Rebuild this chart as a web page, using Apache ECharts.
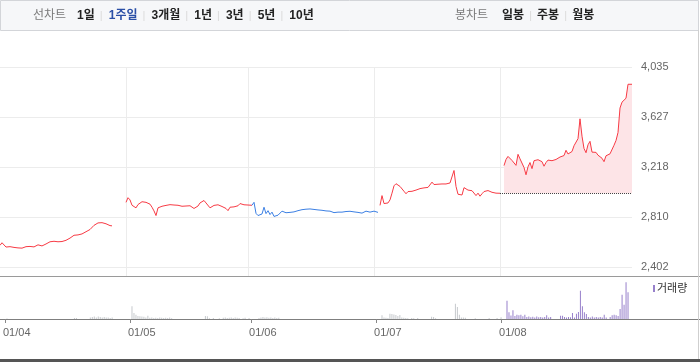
<!DOCTYPE html>
<html>
<head>
<meta charset="utf-8">
<script src="https://cdn.jsdelivr.net/npm/echarts@6/dist/echarts.min.js"></script>
<style>
html,body{margin:0;padding:0;background:#fff;}
#c{width:700px;height:362px;}
</style>
</head>
<body>
<div id="c"></div>
<script>
// ---------------- data ----------------
const pointCount = 317;                       // intraday slots on the x axis
const monthStarts = [0, 63, 124, 187, 250];    // slot index of each month tick
const monthLabels = ['01/04', '01/05', '01/06', '01/07', '01/08'];
const yTickValues = [2402, 2810, 3218, 3627, 4035];
const baseline = 3004;                         // reference (dotted) price

const seg1Start = 0;
const seg1 = [2579,2600,2590,2565,2560,2568,2558,2562,2555,2558,
  2552,2556,2563,2568,2566,2570,2568,2566,2575,2583,
  2578,2574,2580,2590,2600,2608,2606,2612,2614,2608,
  2612,2610,2614,2620,2628,2638,2652,2661,2660,2664,
  2668,2672,2678,2690,2700,2708,2720,2742,2758,2762,
  2766,2764,2768,2755,2748,2740,2738];
const seg2Start = 63;
const seg2 = [2930,2968,2950,2906,2915,2885,2912,2920,2935,2947,
  2930,2925,2915,2890,2860,2822,2885,2892,2898,2895,
  2905,2908,2911,2904,2908,2900,2906,2902,2898,2908,
  2900,2905,2902,2895,2880,2890,2900,2925,2935,2945,
  2925,2915,2885,2895,2905,2900,2910,2903,2896,2888,
  2880,2862,2890,2895,2893,2898,2902,2920,2915,2910,
  2912,2908,2906,2906];
const seg3Start = 126;   // blue (down) stretch
const seg3 = [2906,2930,2840,2822,2830,2835,2890,2838,2862,2830,
  2850,2815,2800,2825,2838,2858,2848,2845,2852,2848,
  2855,2852,2865,2862,2868,2870,2878,2874,2880,2876,
  2870,2872,2866,2868,2862,2865,2858,2860,2855,2858,
  2848,2846,2854,2850,2856,2850,2848,2855,2850,2857,
  2855,2852,2860,2848,2852,2842,2838,2858,2862,2850,
  2855,2858,2850,2848];
const seg4Start = 190;
const seg4 = [2905,2985,2920,2928,2925,2950,3005,3065,3082,3078,
  3060,3045,3020,3000,3018,3028,3020,3015,3030,3036,
  3042,3040,3048,3045,3052,3058,3095,3075,3072,3078,
  3075,3080,3082,3080,3085,3088,3100,3190,3060,2996,
  2998,2990,3050,3040,3030,3014,3025,3018,2985,3005,
  2980,3000,3018,3024,3026,3020,3012,3018,3005,3004,
  3004];
const seg5Start = 252;   // highlighted period (area)
const seg5 = [3230,3280,3305,3300,3272,3270,3232,3322,3285,3288,
  3215,3155,3220,3255,3205,3270,3275,3278,3282,3262,
  3225,3255,3275,3278,3270,3282,3280,3290,3300,3305,
  3312,3355,3325,3320,3345,3392,3398,3450,3612,3470,
  3370,3335,3400,3428,3340,3345,3338,3315,3322,3290,
  3262,3310,3318,3326,3325,3396,3435,3500,3700,3748,
  3745,3780,3894,3894,3894];

const highlightStart = 251;
const volume = [
  // 04
  0,5,0,0,0,0,0,0,0,0, 0,0,0,0,0,0,0,0,0,0, 0,0,0,0,0,0,0,0,0,0,
  0,0,0,0,0,10,10,0,0,0, 0,0,0,15,20,25,15,25,20,15, 20,15,15,10,15,0,0,0,0,0,
  0,0,0,
  // 05
  0,127,60,43,30,28,25,22,15,33, 12,15,10,12,10,15,12,10,12,10, 15,8,0,0,0,0,0,0,0,0,
  0,0,0,0,0,0,0,0,30,28, 8,0,10,0,0,8,0,12,15,10, 12,15,10,15,12,10,0,8,12,0,
  10,
  // 06
  0,0,0,0,10,15,20,15,18,12, 15,10,15,10,12,0,0,0,0,0, 0,0,0,0,0,0,0,0,0,0,
  0,0,0,0,0,0,0,0,0,0, 0,0,0,0,0,0,0,0,0,0, 0,0,0,0,0,0,0,0,0,0,
  0,0,0,
  // 07
  0,0,0,37,15,12,10,53,50,45, 40,30,40,15,12,10,8,0,10,8, 0,10,0,0,0,0,0,0,23,20,
  8,0,0,0,0,0,0,0,0,0, 153,120,43,15,15,12,0,0,0,0, 8,0,0,0,0,0,0,10,0,0,
  0,10,0,17,
  // 08
  0,0,183,67,35,87,30,43,37,43, 27,43,20,25,18,22,15,25,18,20, 15,20,37,15,20,0,0,0,0,33,
  33,20,15,20,18,60,15,53,70,283, 127,67,50,20,15,25,15,20,15,20, 15,43,15,0,20,37,43,37,30,100,
  243,143,367,267,0,0
];

// ---------------- build ----------------
const FONT = '"Liberation Sans", "Noto Sans CJK KR", sans-serif';
const categories = [];
for (let i = 0; i < pointCount; i++) {
  const m = monthStarts.indexOf(i);
  categories.push(m >= 0 ? monthLabels[m] : '');
}
function place(start, arr) {
  const out = new Array(pointCount).fill(null);
  arr.forEach((v, k) => { out[start + k] = v; });
  return out;
}
const isMonth = (i) => monthStarts.indexOf(i) >= 0;

const RED = '#f73a44', BLUE = '#3b7fe3';
function lineSeries(data, color, extra) {
  return Object.assign({
    type: 'line', xAxisIndex: 1, yAxisIndex: 1, data: data,
    symbol: 'none', showSymbol: false, connectNulls: false, silent: true,
    lineStyle: { color: color, width: 1 }, itemStyle: { color: color }, z: 3
  }, extra || {});
}

const series = [
  lineSeries(place(seg1Start, seg1), RED),
  lineSeries(place(seg2Start, seg2), RED),
  lineSeries(place(seg3Start, seg3), BLUE),
  lineSeries(place(seg4Start, seg4), RED),
  lineSeries(place(seg5Start, seg5), RED, {
    areaStyle: { color: '#fde4e7', opacity: 1, origin: baseline },
    markLine: {
      silent: true, symbol: ['none', 'none'], label: { show: false },
      lineStyle: { type: 'dotted', color: '#444', width: 1 },
      data: [[{ coord: [monthStarts[4], baseline] }, { coord: [pointCount - 1, baseline] }]]
    }
  }),
  {
    type: 'bar', name: 'vol', xAxisIndex: 2, yAxisIndex: 2, barWidth: 1, barGap: '-100%',
    data: volume.map((v, i) => i < highlightStart ? v : null),
    itemStyle: { color: '#c6c9cd' }, silent: true
  },
  {
    type: 'bar', name: '거래량', xAxisIndex: 2, yAxisIndex: 2, barWidth: 1, barGap: '-100%',
    data: volume.map((v, i) => i >= highlightStart ? v : null),
    itemStyle: { color: '#9780cb' }, silent: true
  }
];

// top toolbar texts
const periodLabels = ['1일', '1주일', '3개월', '1년', '3년', '5년', '10년'];
const periodActive = 1;
const candleLabels = ['일봉', '주봉', '월봉'];
const ctx = document.createElement('canvas').getContext('2d');
function w(txt, bold) { ctx.font = (bold ? 'bold ' : '') + '12px ' + FONT; return ctx.measureText(txt).width; }

const graphics = [
  { type: 'rect', shape: { x: 0.5, y: 0.5, width: 698, height: 30 }, style: { fill: '#f6f7f9', stroke: '#d3d5d9', lineWidth: 1 }, silent: true },
  { type: 'line', shape: { x1: 0, y1: 276.5, x2: 700, y2: 276.5 }, style: { stroke: '#9a9a9a', lineWidth: 1 }, silent: true },
  { type: 'line', shape: { x1: 0, y1: 319.5, x2: 700, y2: 319.5 }, style: { stroke: '#7f7f7f', lineWidth: 1 }, silent: true },
  { type: 'line', shape: { x1: 698.5, y1: 30, x2: 698.5, y2: 359 }, style: { stroke: '#cfcfcf', lineWidth: 1 }, silent: true },
  { type: 'rect', shape: { x: 0, y: 359, width: 700, height: 3 }, style: { fill: '#555' }, silent: true }
];
function addText(txt, x, color, bold) {
  graphics.push({ type: 'text', x: x, y: 16, silent: true,
    style: { text: txt, fill: color, font: (bold ? 'bold ' : '') + '12px ' + FONT, textVerticalAlign: 'middle', textAlign: 'left' } });
  return x + w(txt, bold);
}
function addSep(x) {
  graphics.push({ type: 'line', silent: true, shape: { x1: x + 0.5, y1: 11, x2: x + 0.5, y2: 21 }, style: { stroke: '#dcdcdc', lineWidth: 1 } });
}
let x = 33;
x = addText('선차트', x, '#7a7a7a', false);
x = 77;
periodLabels.forEach((t, k) => {
  const end = addText(t, x, k === periodActive ? '#2a4fa6' : '#222', true);
  if (k < periodLabels.length - 1) { addSep(end + 6); x = end + 14; }
});
x = addText('봉차트', 455, '#7a7a7a', false);
x = 502;
candleLabels.forEach((t, k) => {
  const end = addText(t, x, '#222', true);
  if (k < candleLabels.length - 1) { addSep(end + 6); x = end + 13; }
});

const option = {
  animation: false,
  textStyle: { fontFamily: FONT },
  grid: [
    { left: 0, right: 68, top: 67, height: 209 },
    { left: 0, right: 68, top: 67, height: 200 },
    { left: 0, right: 68, top: 276, height: 43 }
  ],
  legend: {
    data: ['거래량'], left: 653, top: 283, padding: 0, icon: 'rect', itemWidth: 2, itemHeight: 7,
    textStyle: { fontSize: 11, color: '#333', fontFamily: FONT, padding: [0, 0, 0, -3] }, selectedMode: false
  },
  xAxis: [
    { gridIndex: 0, type: 'category', data: categories, boundaryGap: false,
      axisLine: { show: false }, axisTick: { show: false }, axisLabel: { show: false },
      splitLine: { show: true, interval: (i) => i > 0 && isMonth(i), lineStyle: { color: '#ececec', width: 1 } } },
    { gridIndex: 1, type: 'category', data: categories, boundaryGap: false, show: false },
    { gridIndex: 2, type: 'category', data: categories, boundaryGap: false,
      axisLine: { show: false },
      axisTick: { show: true, interval: (i) => isMonth(i), length: 4, lineStyle: { color: '#888' } },
      axisLabel: { interval: (i) => isMonth(i), align: 'left', margin: 8, color: '#666', fontSize: 11, fontFamily: FONT,
        padding: [0, 0, 0, -2] },
      splitLine: { show: false } }
  ],
  yAxis: [
    { gridIndex: 0, type: 'value', min: 0, max: 1, show: false },
    { gridIndex: 1, type: 'value', position: 'right', min: yTickValues[0], max: yTickValues[yTickValues.length - 1],
      interval: (yTickValues[yTickValues.length - 1] - yTickValues[0]) / (yTickValues.length - 1),
      axisLine: { show: false }, axisTick: { show: false },
      splitLine: { lineStyle: { color: '#ececec' } },
      axisLabel: { margin: 9, color: '#666', fontSize: 11, fontFamily: FONT,
        formatter: (v) => {
          let best = yTickValues[0];
          yTickValues.forEach(t => { if (Math.abs(t - v) < Math.abs(best - v)) best = t; });
          return best.toLocaleString('en-US');
        } } },
    { gridIndex: 2, type: 'value', min: 0, max: 430, show: false }
  ],
  series: series,
  graphic: graphics
};
const chart = echarts.init(document.getElementById('c'), null, { renderer: 'canvas' });
chart.setOption(option);
</script>
</body>
</html>
